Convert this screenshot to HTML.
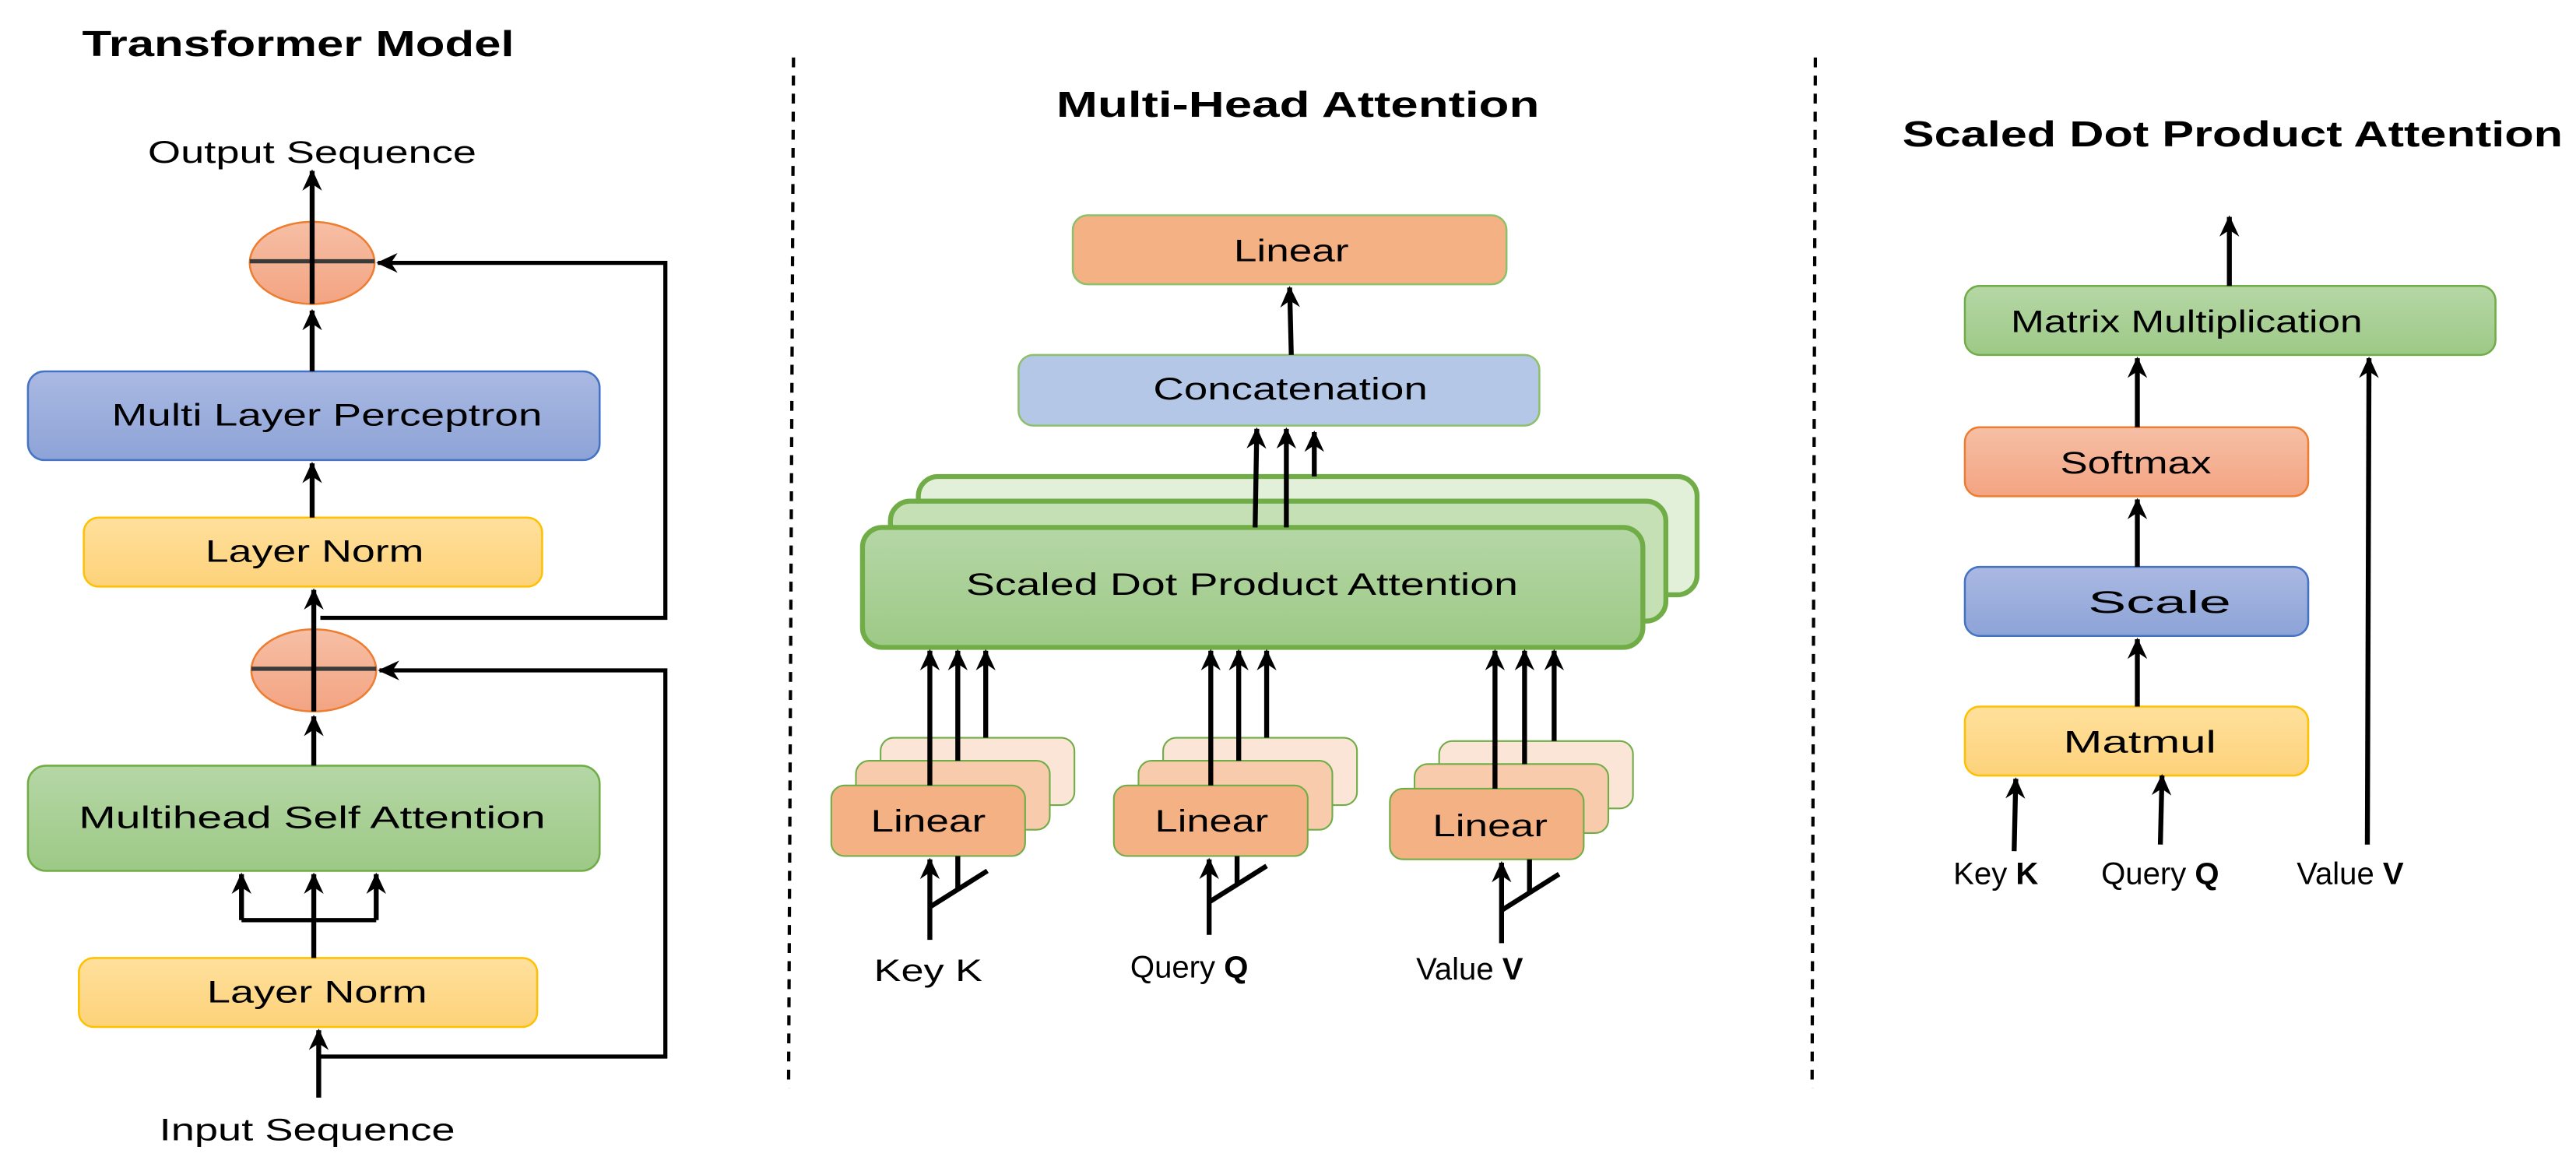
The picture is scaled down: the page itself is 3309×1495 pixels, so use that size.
<!DOCTYPE html>
<html><head><meta charset="utf-8"><style>html,body{margin:0;padding:0;background:#fff}svg{display:block}</style></head>
<body>
<svg width="3309" height="1495" viewBox="0 0 1568 708.4" xmlns="http://www.w3.org/2000/svg" font-family="Liberation Sans, DejaVu Sans, sans-serif">
<defs>
<marker id="a" markerUnits="userSpaceOnUse" markerWidth="14" markerHeight="14" refX="12" refY="7" orient="auto"><path d="M0,1 L13,7 L0,13 L4,7 z" fill="#000"/></marker>
<linearGradient id="gb" x1="0" y1="0" x2="0" y2="1"><stop offset="0" stop-color="#aab9e2"/><stop offset="1" stop-color="#8da3d7"/></linearGradient>
<linearGradient id="gy" x1="0" y1="0" x2="0" y2="1"><stop offset="0" stop-color="#ffe09c"/><stop offset="1" stop-color="#fdd27a"/></linearGradient>
<linearGradient id="gg" x1="0" y1="0" x2="0" y2="1"><stop offset="0" stop-color="#b5d7a6"/><stop offset="1" stop-color="#9dc986"/></linearGradient>
<linearGradient id="gs" x1="0" y1="0" x2="0" y2="1"><stop offset="0" stop-color="#f6bfa5"/><stop offset="1" stop-color="#f3a482"/></linearGradient>
</defs>
<g fill="#000">
<text x="50" y="34" font-size="22" font-weight="bold" textLength="263" lengthAdjust="spacingAndGlyphs">Transformer Model</text>
<text x="90" y="99" font-size="19" textLength="200" lengthAdjust="spacingAndGlyphs">Output Sequence</text>
<text x="643" y="71" font-size="22" font-weight="bold" textLength="294" lengthAdjust="spacingAndGlyphs">Multi-Head Attention</text>
<text x="1158" y="89" font-size="22" font-weight="bold" textLength="402" lengthAdjust="spacingAndGlyphs">Scaled Dot Product Attention</text>
</g>
<g stroke="#000" stroke-width="2" stroke-dasharray="6,5"><line x1="483" y1="35" x2="480" y2="662"/><line x1="1105" y1="35" x2="1103" y2="662"/></g>

<!-- left panel boxes -->
<rect x="17" y="226" width="348" height="54" rx="10" fill="url(#gb)" stroke="#4472c4" stroke-width="1.2"/>
<rect x="51" y="315" width="279" height="42" rx="9" fill="url(#gy)" stroke="#ffc000" stroke-width="1.2"/>
<rect x="17" y="466" width="348" height="64" rx="11" fill="url(#gg)" stroke="#70ad47" stroke-width="1.2"/>
<rect x="48" y="583" width="279" height="42" rx="9" fill="url(#gy)" stroke="#ffc000" stroke-width="1.2"/>
<ellipse cx="190" cy="160" rx="38" ry="25" fill="url(#gs)" stroke="#ed7d31" stroke-width="1.2"/>
<ellipse cx="191" cy="408" rx="38" ry="25" fill="url(#gs)" stroke="#ed7d31" stroke-width="1.2"/>
<g stroke="#3a3a3a" stroke-width="2.5"><line x1="152" y1="159" x2="228" y2="159"/><line x1="153" y1="407" x2="229" y2="407"/></g>
<g fill="#000" font-size="19">
<text x="68" y="259" textLength="262" lengthAdjust="spacingAndGlyphs">Multi Layer Perceptron</text>
<text x="125" y="342" textLength="133" lengthAdjust="spacingAndGlyphs">Layer Norm</text>
<text x="48" y="504" textLength="284" lengthAdjust="spacingAndGlyphs">Multihead Self Attention</text>
<text x="126" y="610" textLength="134" lengthAdjust="spacingAndGlyphs">Layer Norm</text>
<text x="97" y="694" textLength="180" lengthAdjust="spacingAndGlyphs">Input Sequence</text>
</g>
<g stroke="#000" stroke-width="3" fill="none">
<line x1="190" y1="185" x2="190" y2="104" marker-end="url(#a)"/>
<line x1="190" y1="226" x2="190" y2="266" stroke-width="0"/>
<line x1="190" y1="226" x2="190" y2="189" marker-end="url(#a)"/>
<line x1="190" y1="315" x2="190" y2="282" marker-end="url(#a)"/>
<line x1="191" y1="433" x2="191" y2="359" marker-end="url(#a)"/>
<polyline points="195,376 405,376 405,160 230,160" marker-end="url(#a)" stroke-width="2.5"/>
<line x1="191" y1="466" x2="191" y2="436" marker-end="url(#a)"/>
<line x1="191" y1="583" x2="191" y2="560"/>
<polyline points="147,560 229,560" stroke-width="2.5"/>
<line x1="147" y1="560" x2="147" y2="532" marker-end="url(#a)"/>
<line x1="191" y1="560" x2="191" y2="532" marker-end="url(#a)"/>
<line x1="229" y1="560" x2="229" y2="532" marker-end="url(#a)"/>
<line x1="194" y1="668" x2="194" y2="627" marker-end="url(#a)"/>
<polyline points="194,643 405,643 405,408 231,408" marker-end="url(#a)" stroke-width="2.5"/>
</g>

<!-- middle panel -->
<rect x="653" y="131" width="264" height="42" rx="9" fill="#f4b183" stroke="#8cc06a" stroke-width="1.2"/>
<rect x="620" y="216" width="317" height="43" rx="9" fill="#b4c7e7" stroke="#8cc06a" stroke-width="1.2"/>
<rect x="559" y="290" width="474" height="72" rx="12" fill="#e2f0d9" stroke="#70ad47" stroke-width="3"/>
<rect x="542" y="305" width="472" height="73" rx="12" fill="#c5e0b4" stroke="#70ad47" stroke-width="3"/>
<rect x="525" y="321" width="475" height="73" rx="12" fill="url(#gg)" stroke="#70ad47" stroke-width="3"/>
<g stroke="#70ad47" stroke-width="1">
<rect x="536" y="449" width="118" height="41" rx="8" fill="#fbe5d6"/>
<rect x="521" y="463" width="118" height="42" rx="8" fill="#f8cbad"/>
<rect x="506" y="478" width="118" height="43" rx="8" fill="#f4b183"/>
<rect x="708" y="449" width="118" height="41" rx="8" fill="#fbe5d6"/>
<rect x="693" y="463" width="118" height="42" rx="8" fill="#f8cbad"/>
<rect x="678" y="478" width="118" height="43" rx="8" fill="#f4b183"/>
<rect x="876" y="451" width="118" height="41" rx="8" fill="#fbe5d6"/>
<rect x="861" y="465" width="118" height="42" rx="8" fill="#f8cbad"/>
<rect x="846" y="480" width="118" height="43" rx="8" fill="#f4b183"/>
</g>
<g fill="#000" font-size="19">
<text x="751" y="159" textLength="70" lengthAdjust="spacingAndGlyphs">Linear</text>
<text x="702" y="243" textLength="167" lengthAdjust="spacingAndGlyphs">Concatenation</text>
<text x="588" y="362" textLength="336" lengthAdjust="spacingAndGlyphs">Scaled Dot Product Attention</text>
<text x="530" y="506" textLength="70" lengthAdjust="spacingAndGlyphs">Linear</text>
<text x="703" y="506" textLength="69" lengthAdjust="spacingAndGlyphs">Linear</text>
<text x="872" y="509" textLength="70" lengthAdjust="spacingAndGlyphs">Linear</text>
<text x="532" y="597" textLength="66" lengthAdjust="spacingAndGlyphs">Key K</text>
<text x="688" y="595">Query <tspan font-weight="bold">Q</tspan></text>
<text x="862" y="596">Value <tspan font-weight="bold">V</tspan></text>
</g>
<g stroke="#000" stroke-width="3" fill="none">
<line x1="786" y1="216" x2="785" y2="175" marker-end="url(#a)"/>
<line x1="764" y1="321" x2="765" y2="261" marker-end="url(#a)"/>
<line x1="783" y1="321" x2="783" y2="261" marker-end="url(#a)"/>
<line x1="800" y1="290" x2="800" y2="263" marker-end="url(#a)"/>
<line x1="566" y1="478" x2="566" y2="396" marker-end="url(#a)"/>
<line x1="583" y1="463" x2="583" y2="396" marker-end="url(#a)"/>
<line x1="600" y1="449" x2="600" y2="396" marker-end="url(#a)"/>
<line x1="737" y1="478" x2="737" y2="396" marker-end="url(#a)"/>
<line x1="754" y1="463" x2="754" y2="396" marker-end="url(#a)"/>
<line x1="771" y1="449" x2="771" y2="396" marker-end="url(#a)"/>
<line x1="910" y1="480" x2="910" y2="396" marker-end="url(#a)"/>
<line x1="928" y1="465" x2="928" y2="396" marker-end="url(#a)"/>
<line x1="946" y1="451" x2="946" y2="396" marker-end="url(#a)"/>
<line x1="566" y1="572" x2="566" y2="523" marker-end="url(#a)"/>
<polyline points="566,552 601,530"/><line x1="583" y1="542" x2="583" y2="521"/>
<line x1="736" y1="569" x2="736" y2="523" marker-end="url(#a)"/>
<polyline points="736,549 771,527"/><line x1="753" y1="539" x2="753" y2="521"/>
<line x1="914" y1="574" x2="914" y2="525" marker-end="url(#a)"/>
<polyline points="914,554 949,532"/><line x1="931" y1="543" x2="931" y2="523"/>
</g>

<!-- right panel -->
<rect x="1196" y="174" width="323" height="42" rx="9" fill="url(#gg)" stroke="#70ad47" stroke-width="1.2"/>
<rect x="1196" y="260" width="209" height="42" rx="9" fill="url(#gs)" stroke="#ed7d31" stroke-width="1.2"/>
<rect x="1196" y="345" width="209" height="42" rx="9" fill="url(#gb)" stroke="#4472c4" stroke-width="1.2"/>
<rect x="1196" y="430" width="209" height="42" rx="9" fill="url(#gy)" stroke="#ffc000" stroke-width="1.2"/>
<g fill="#000" font-size="19">
<text x="1224" y="202" textLength="214" lengthAdjust="spacingAndGlyphs">Matrix Multiplication</text>
<text x="1254" y="288" textLength="92" lengthAdjust="spacingAndGlyphs">Softmax</text>
<text x="1271" y="373" textLength="87" lengthAdjust="spacingAndGlyphs">Scale</text>
<text x="1256" y="458" textLength="93" lengthAdjust="spacingAndGlyphs">Matmul</text>
<text x="1189" y="538">Key <tspan font-weight="bold">K</tspan></text>
<text x="1279" y="538">Query <tspan font-weight="bold">Q</tspan></text>
<text x="1398" y="538">Value <tspan font-weight="bold">V</tspan></text>
</g>
<g stroke="#000" stroke-width="3" fill="none">
<line x1="1357" y1="174" x2="1357" y2="132" marker-end="url(#a)"/>
<line x1="1301" y1="260" x2="1301" y2="218" marker-end="url(#a)"/>
<line x1="1301" y1="345" x2="1301" y2="304" marker-end="url(#a)"/>
<line x1="1301" y1="430" x2="1301" y2="389" marker-end="url(#a)"/>
<line x1="1226" y1="518" x2="1227" y2="474" marker-end="url(#a)"/>
<line x1="1315" y1="514" x2="1316" y2="472" marker-end="url(#a)"/>
<line x1="1441" y1="514" x2="1442" y2="218" marker-end="url(#a)"/>
</g>
</svg>
</body></html>
